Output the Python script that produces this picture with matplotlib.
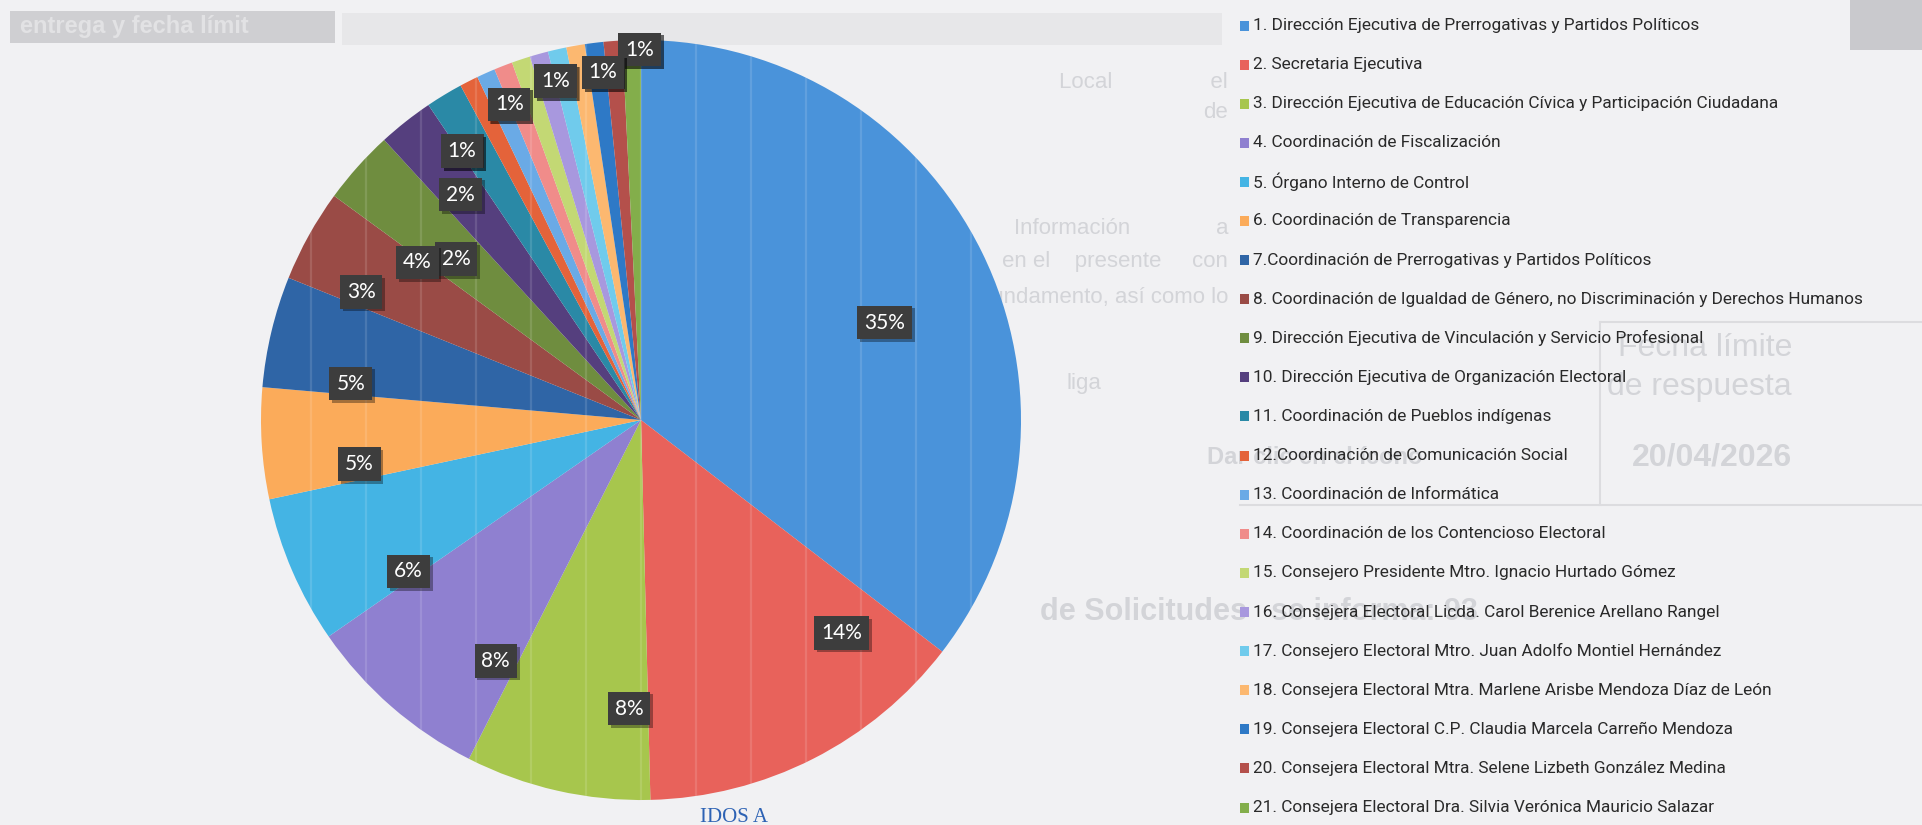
import numpy as np
import matplotlib.pyplot as plt
from matplotlib.patches import Rectangle, Circle
import matplotlib.patheffects as pe

# Solicitudes turnadas por área
areas = [
    "1. Dirección Ejecutiva de Prerrogativas y Partidos Políticos",
    "2. Secretaria Ejecutiva",
    "3. Dirección Ejecutiva de Educación Cívica y Participación Ciudadana",
    "4. Coordinación de Fiscalización",
    "5. Órgano Interno de Control",
    "6. Coordinación de Transparencia",
    "7.Coordinación de Prerrogativas y Partidos Políticos",
    "8. Coordinación de Igualdad de Género, no Discriminación y Derechos Humanos",
    "9. Dirección Ejecutiva de Vinculación y Servicio Profesional",
    "10. Dirección Ejecutiva de Organización Electoral",
    "11. Coordinación de Pueblos indígenas",
    "12.Coordinación de Comunicación Social",
    "13. Coordinación de Informática",
    "14. Coordinación de los Contencioso Electoral",
    "15. Consejero Presidente Mtro. Ignacio Hurtado Gómez",
    "16. Consejera Electoral Licda. Carol Berenice Arellano Rangel",
    "17. Consejero Electoral Mtro. Juan Adolfo Montiel Hernández",
    "18. Consejera Electoral Mtra. Marlene Arisbe Mendoza Díaz de León",
    "19. Consejera Electoral C.P. Claudia Marcela Carreño Mendoza",
    "20. Consejera Electoral Mtra. Selene Lizbeth González Medina",
    "21. Consejera Electoral Dra. Silvia Verónica Mauricio Salazar",
]
solicitudes = [45, 18, 10, 10, 8, 6, 6, 5, 4, 3, 2, 1, 1, 1, 1, 1, 1, 1, 1, 1, 1]

colores = [
    "#4a93da", "#e8625b", "#a7c64d", "#8f80d0", "#44b4e4", "#fbab5a",
    "#2f65a6", "#9a4b46", "#6f8d3f", "#553f7e", "#2a89a6", "#e4633a",
    "#6aaae6", "#f08c8a", "#c3d874", "#a898de", "#70cbec", "#fcb870",
    "#2e79c6", "#b4504b", "#83ae4b",
]

# ajuste de la posición de cada etiqueta (grados respecto al centro de la rebanada, radio)
desfase = [4.4, -16.4, -10.4, -10.0, -9.7, -5.4, -6.3, 6.1, -17.2, -10.7, -7.5,
           -6.7, -9.5, -1.4, -4.3, 1.4, -1.4, 3.7, 0.9, 4.1, 1.2]
radio_etq = [0.69, 0.77, 0.76, 0.74, 0.73, 0.75, 0.77, 0.72, 0.81, 0.645, 0.76,
             0.85, 0.85, 0.90, 0.90, 0.92, 0.92, 0.92, 0.92, 0.975, 0.975]

W, H = 1922, 825


def fx(x):
    return x / W


def fy(y):
    return 1 - y / H


fig = plt.figure(figsize=(W / 100, H / 100), dpi=100, facecolor="#f1f1f3")

# fondo de la hoja escaneada
fig.add_artist(Rectangle((fx(10), fy(43)), 325 / W, 32 / H, transform=fig.transFigure,
                         fc="#cfcfd2", ec="none", zorder=-3))
fig.add_artist(Rectangle((fx(342), fy(45)), 880 / W, 32 / H, transform=fig.transFigure,
                         fc="#e7e7e9", ec="none", zorder=-3))
fig.add_artist(Rectangle((fx(1850), fy(50)), 72 / W, 50 / H, transform=fig.transFigure,
                         fc="#c9c9cd", ec="none", zorder=-3))
fig.text(fx(20), fy(27), "entrega y fecha límit", fontsize=17, fontweight="bold",
         color="#e2e2e4", va="center", family="Liberation Sans", zorder=-1)

gris = "#d3d4d8"
fondo = [
    (1228, 83, "Local                el", "right", 16, "normal"),
    (1228, 113, "de", "right", 16, "normal"),
    (1228, 228, "Información              a", "right", 16, "normal"),
    (1228, 262, "en el    presente     con", "right", 16, "normal"),
    (1228, 297, "fundamento, así como lo", "right", 16, "normal"),
    (1066, 384, "liga", "left", 16, "normal"),
    (1792, 348, "Fecha límite", "right", 23, "normal"),
    (1792, 387, "de respuesta", "right", 23, "normal"),
    (1207, 457, "Dar clic en el ícono", "left", 17, "bold"),
    (1792, 458, "20/04/2026", "right", 23, "bold"),
    (1040, 612, "de Solicitudes", "left", 22, "bold"),
    (1478, 612, "se informa: 93", "right", 22, "bold"),
]
for x, y, s, ha, fs, fw in fondo:
    fig.text(fx(x), fy(y), s, fontsize=fs, fontweight=fw, color=gris, ha=ha,
             va="center", family="Liberation Sans", zorder=-1)
for x0, x1, y in [(1600, 1922, 322), (1240, 1922, 505)]:
    fig.add_artist(plt.Line2D([fx(x0), fx(x1)], [fy(y), fy(y)], transform=fig.transFigure,
                              color="#dcdcdf", lw=1.5, zorder=-2))
fig.add_artist(plt.Line2D([fx(1600), fx(1600)], [fy(322), fy(505)], transform=fig.transFigure,
                          color="#dcdcdf", lw=1.5, zorder=-2))
fig.text(fx(700), fy(808), "IDOS A", fontsize=15, color="#2d62b4", va="top",
         family="Liberation Serif", zorder=-1)

# gráfica de pastel
cx, cy, r = 641, 420, 380
ax = fig.add_axes([fx(cx - r), fy(cy + r), 2 * r / W, 2 * r / H])
wedges, _ = ax.pie(solicitudes, colors=colores, startangle=90, counterclock=False,
                   radius=1, wedgeprops=dict(linewidth=0))
ax.set_xlim(-1, 1)
ax.set_ylim(-1, 1)
ax.set_aspect("equal")
ax.axis("off")

# rayas claras del escaneo
clip = Circle((0, 0), 1, transform=ax.transData)
for xs in np.arange(-7, 8) * 55 / r:
    ln, = ax.plot([xs, xs], [-1, 1], color="white", lw=1.6, alpha=0.13)
    ln.set_clip_path(clip)

total = sum(solicitudes)
for i, w in enumerate(wedges):
    pct = solicitudes[i] / total * 100
    mid_cw = 90 - (w.theta1 + w.theta2) / 2 + desfase[i]
    ang = np.deg2rad(90 - mid_cw)
    t = ax.text(radio_etq[i] * np.cos(ang), radio_etq[i] * np.sin(ang), f"{pct:.0f}%",
                ha="center", va="center", color="white", fontsize=15, family="Lato",
                bbox=dict(boxstyle="square,pad=0.33", fc="#3d3d3d", ec="none"),
                zorder=10 + (21 - i) * 0.01)
    t.get_bbox_patch().set_path_effects(
        [pe.withSimplePatchShadow(offset=(2, -2), shadow_rgbFace="black", alpha=0.35)])

# leyenda
for i, (nombre, c) in enumerate(zip(areas, colores)):
    y = 25.5 + 39.1 * i
    fig.add_artist(Rectangle((fx(1240), fy(y + 5)), 9 / W, 10 / H,
                             transform=fig.transFigure, fc=c, ec="none"))
    fig.text(fx(1253), fy(y), nombre, fontsize=12.4, color="#2a2a2a", va="center",
             family="Roboto")

fig.savefig("out.png", dpi=100, facecolor=fig.get_facecolor())
